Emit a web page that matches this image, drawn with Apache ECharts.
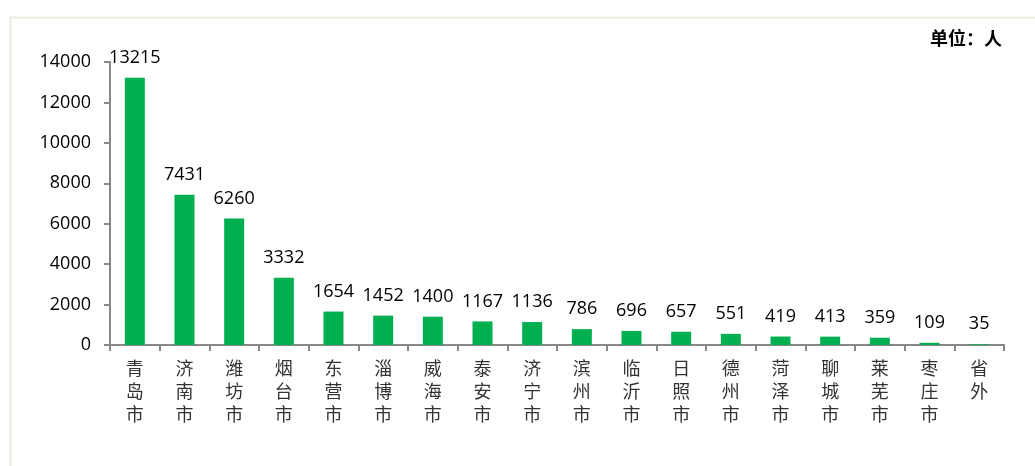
<!DOCTYPE html>
<html>
<head>
<meta charset="utf-8">
<script src="https://cdn.jsdelivr.net/npm/echarts@6/dist/echarts.min.js"></script>
<style>
  html, body { margin: 0; padding: 0; background: #fff; }
  #main { width: 1035px; height: 466px; }
</style>
</head>
<body>
<div id="main"></div>
<script>
// 各市人数
var cities = ['青岛市', '济南市', '潍坊市', '烟台市', '东营市', '淄博市', '威海市', '泰安市', '济宁市',
              '滨州市', '临沂市', '日照市', '德州市', '菏泽市', '聊城市', '莱芜市', '枣庄市', '省外'];
var counts = [13215, 7431, 6260, 3332, 1654, 1452, 1400, 1167, 1136, 786, 696, 657, 551, 419, 413, 359, 109, 35];
var yTicks = [0, 2000, 4000, 6000, 8000, 10000, 12000, 14000];

var chart = echarts.init(document.getElementById('main'));

chart.setOption({
  animation: false,
  graphic: [{
    type: 'rect',
    left: 8, top: 15,
    shape: { width: 1040, height: 470 },
    style: { fill: 'none', stroke: '#EEEBE0', lineWidth: 2 }
  }],
  title: {
    text: '单位：人',
    right: 28, top: 24,
    textStyle: { fontSize: 18, fontWeight: 'bold', color: '#000', fontFamily: 'Noto Sans CJK SC' }
  },
  grid: { left: 110, right: 31, top: 62, bottom: 121 },
  xAxis: {
    type: 'category',
    data: cities,
    axisLine: { lineStyle: { color: '#888', width: 2 } },
    axisTick: { show: true, alignWithLabel: false, length: 6, lineStyle: { color: '#888', width: 2 } },
    axisLabel: {
      interval: 0,
      margin: 12,
      color: '#333',
      fontSize: 18,
      lineHeight: 23,
      fontFamily: 'Noto Sans CJK SC',
      formatter: function (v) { return v.split('').join('\n'); }
    }
  },
  yAxis: {
    type: 'value',
    min: 0, max: 14000, interval: 2000,
    splitLine: { show: false },
    axisLine: { show: true, lineStyle: { color: '#888', width: 2 } },
    axisTick: { show: true, length: 6, lineStyle: { color: '#888', width: 2 } },
    axisLabel: {
      color: '#000', fontSize: 18, margin: 19, fontFamily: 'Open Sans',
      formatter: function (v) { return yTicks.indexOf(v) >= 0 ? String(v) : ''; }
    }
  },
  series: [{
    type: 'bar',
    data: counts,
    barWidth: 20,
    itemStyle: { color: '#00B050' },
    label: {
      show: true,
      position: 'top',
      distance: 11,
      color: '#000',
      fontSize: 18,
      fontFamily: 'Open Sans'
    }
  }]
});
</script>
</body>
</html>
